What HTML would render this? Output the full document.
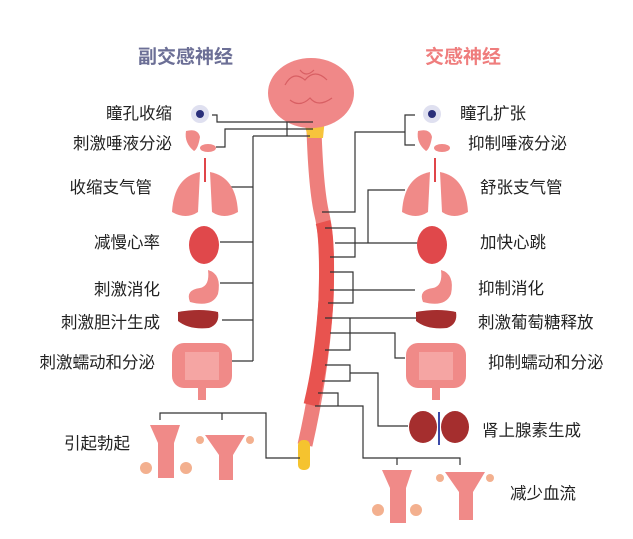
<!DOCTYPE html>
<html><head><meta charset="utf-8"><style>
html,body{margin:0;padding:0;background:#fff;}
svg{display:block}
text{font-family:"Liberation Sans","Noto Sans CJK SC",sans-serif;}
.l{font-size:16.5px;fill:#222;}
</style></head><body>
<svg width="633" height="539" viewBox="0 0 633 539" xmlns="http://www.w3.org/2000/svg">
<rect width="633" height="539" fill="#fff"/>
<text x="138" y="63" font-size="19" font-weight="bold" fill="#6c6f96">副交感神经</text>
<text x="425" y="63" font-size="19" font-weight="bold" fill="#ef7d7d">交感神经</text>

<!-- spinal cord -->
<path d="M314 130 Q316 190 322 215 Q328 240 326 300 Q322 370 305 445" stroke="#ee7f7c" stroke-width="15" fill="none"/>
<path d="M323 222 Q328 240 326 300 Q322 360 311 405" stroke="#e8534f" stroke-width="15" fill="none"/>
<path d="M303 118 L325 118 L323 138 L308 138 Z" fill="#f7c43c"/>
<rect x="298" y="440" width="12" height="30" rx="5" fill="#f5c32f"/>
<!-- brain -->
<ellipse cx="311" cy="93" rx="43" ry="35" fill="#f08888"/>
<path d="M285 85 q8 -15 20 -5 q10 -12 22 0 M290 100 q10 8 20 -2 q8 10 22 0 M300 70 q6 8 14 0" stroke="#d85f63" stroke-width="1.2" fill="none"/>

<g stroke="#333" stroke-width="1.2" fill="none">
<polyline points="212,115 217,115 217,122 313,122"/>
<polyline points="216,147 225,147 225,129 313,129"/>
<line x1="253" y1="136" x2="310" y2="136"/>
<line x1="287" y1="122" x2="287" y2="136"/>
<line x1="253" y1="136" x2="253" y2="361"/>
<line x1="230" y1="187" x2="253" y2="187"/>
<line x1="220" y1="242" x2="253" y2="242"/>
<line x1="220" y1="283" x2="253" y2="283"/>
<line x1="222" y1="320" x2="253" y2="320"/>
<line x1="232" y1="361" x2="253" y2="361"/>
<polyline points="300,458 266,458 266,413 160,413 160,420"/>
<line x1="222" y1="413" x2="222" y2="420"/>
<polyline points="415,115 405,115 405,145 415,145"/>
<polyline points="405,132 355,132 355,212 322,212"/>
<polyline points="405,190 368,190 368,243"/>
<line x1="335" y1="243" x2="418" y2="243"/>
<polyline points="325,228 355,228 355,257 330,257"/>
<polyline points="330,272 353,272 353,303 328,303"/>
<line x1="330" y1="290" x2="415" y2="290"/>
<line x1="325" y1="318" x2="417" y2="318"/>
<polyline points="350,318 350,350 325,350"/>
<polyline points="330,333 395,333 395,358 405,358"/>
<polyline points="325,365 350,365 350,381 322,381"/>
<polyline points="350,373 378,373 378,426 408,426"/>
<polyline points="318,393 338,393 338,406"/>
<polyline points="315,406 363,406 363,458 460,458 460,465"/>
<line x1="397" y1="458" x2="397" y2="465"/>
</g>

<g>
<circle cx="200" cy="114" r="9" fill="#dfe0f0"/><circle cx="200" cy="114" r="4" fill="#2a2f7a"/>
<circle cx="432" cy="114" r="9" fill="#dfe0f0"/><circle cx="432" cy="114" r="4" fill="#2a2f7a"/>
<path d="M186 131 q12 -3 14 6 q-2 12 -6 14 q-10 -8 -8 -20Z" fill="#f08a88"/><ellipse cx="208" cy="148" rx="8" ry="4" fill="#f08a88"/>
<path d="M418 131 q12 -3 14 6 q-2 12 -6 14 q-10 -8 -8 -20Z" fill="#f08a88"/><ellipse cx="442" cy="148" rx="8" ry="4" fill="#f08a88"/>
<path d="M200 172 q-26 5 -28 40 q14 8 26 0 z" fill="#f08a88"/><path d="M210 172 q26 5 28 40 q-14 8 -26 0 z" fill="#f08a88"/><line x1="205" y1="158" x2="205" y2="182" stroke="#e0454a" stroke-width="2"/>
<path d="M430 172 q-26 5 -28 40 q14 8 26 0 z" fill="#f08a88"/><path d="M440 172 q26 5 28 40 q-14 8 -26 0 z" fill="#f08a88"/><line x1="435" y1="158" x2="435" y2="182" stroke="#e0454a" stroke-width="2"/>
<ellipse cx="204" cy="245" rx="15" ry="19" fill="#e0484b"/><ellipse cx="432" cy="245" rx="15" ry="19" fill="#e0484b"/>
<path d="M190 302 q-5 -12 10 -14 q10 -2 8 -18 q14 4 10 24 q-6 14 -28 8z" fill="#f08a88"/>
<path d="M423 302 q-5 -12 10 -14 q10 -2 8 -18 q14 4 10 24 q-6 14 -28 8z" fill="#f08a88"/>
<path d="M178 312 q22 -4 40 0 q2 12 -9 16 q-20 2 -31 -7z" fill="#a52e2e"/>
<path d="M416 312 q22 -4 40 0 q2 12 -9 16 q-20 2 -31 -7z" fill="#a52e2e"/>
<rect x="172" y="343" width="60" height="45" rx="12" fill="#f08a88"/><rect x="185" y="352" width="34" height="28" fill="#f5a5a3"/><rect x="198" y="386" width="8" height="14" fill="#f08a88"/>
<rect x="406" y="343" width="60" height="45" rx="12" fill="#f08a88"/><rect x="419" y="352" width="34" height="28" fill="#f5a5a3"/><rect x="432" y="386" width="8" height="14" fill="#f08a88"/>
<ellipse cx="423" cy="427" rx="14" ry="16" fill="#a52e2e"/><ellipse cx="455" cy="427" rx="14" ry="16" fill="#a52e2e"/><line x1="439" y1="412" x2="439" y2="445" stroke="#3b4aa8" stroke-width="2"/>
<path d="M150 425 h30 l-6 18 v35 h-16 v-35z" fill="#f08a88"/><circle cx="146" cy="468" r="6" fill="#f3b08f"/><circle cx="186" cy="468" r="6" fill="#f3b08f"/>
<path d="M205 435 h40 l-12 20 v25 h-14 v-25z" fill="#f08a88"/><circle cx="200" cy="440" r="4" fill="#f3b08f"/><circle cx="250" cy="440" r="4" fill="#f3b08f"/>
<path d="M382 470 h30 l-6 18 v35 h-16 v-35z" fill="#f08a88"/><circle cx="378" cy="510" r="6" fill="#f3b08f"/><circle cx="416" cy="510" r="6" fill="#f3b08f"/>
<path d="M445 472 h40 l-12 20 v28 h-14 v-28z" fill="#f08a88"/><circle cx="440" cy="478" r="4" fill="#f3b08f"/><circle cx="490" cy="478" r="4" fill="#f3b08f"/>
</g>

<g class="l" text-anchor="end">
<text x="172" y="119">瞳孔收缩</text>
<text x="172" y="149">刺激唾液分泌</text>
<text x="152" y="193">收缩支气管</text>
<text x="160" y="248">减慢心率</text>
<text x="160" y="295">刺激消化</text>
<text x="160" y="328">刺激胆汁生成</text>
<text x="155" y="368">刺激蠕动和分泌</text>
<text x="130" y="449">引起勃起</text>
</g>
<g class="l">
<text x="460" y="119">瞳孔扩张</text>
<text x="468" y="149">抑制唾液分泌</text>
<text x="480" y="193">舒张支气管</text>
<text x="480" y="248">加快心跳</text>
<text x="478" y="294">抑制消化</text>
<text x="478" y="328">刺激葡萄糖释放</text>
<text x="488" y="368">抑制蠕动和分泌</text>
<text x="482" y="436">肾上腺素生成</text>
<text x="510" y="499">减少血流</text>
</g>
</svg>
</body></html>
